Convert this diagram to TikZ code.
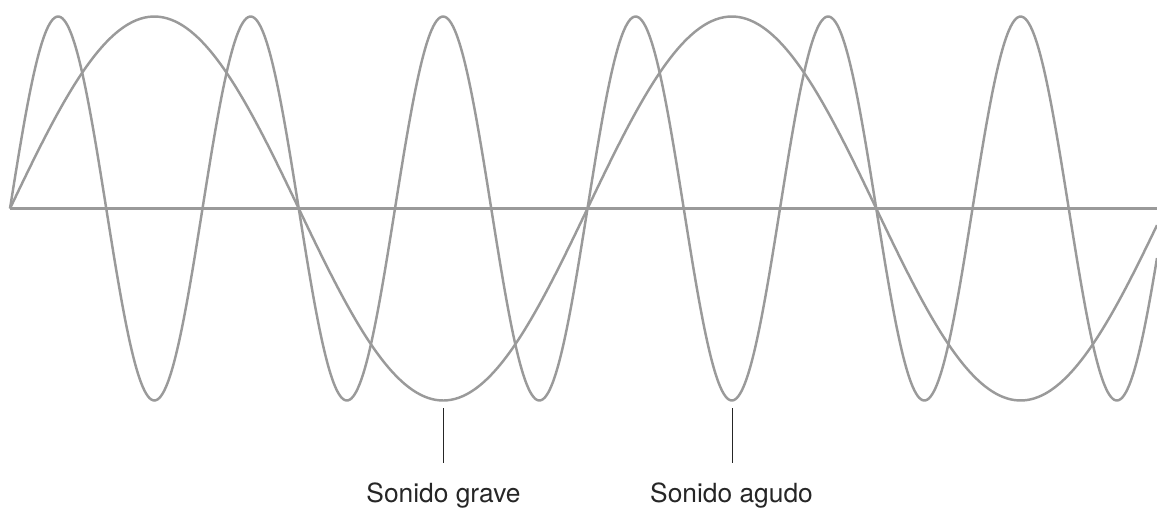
\documentclass[tikz,border=0pt]{standalone}
\usepackage{fontspec}
\setmainfont{TeX Gyre Heros}
\usepackage{xcolor}
\usepackage{tikz}
\definecolor{wavegray}{HTML}{9A9A9A}

\begin{document}
\begin{tikzpicture}[x=0.02cm, y=-0.02cm,
    wave/.style={draw=wavegray, line width=1.4pt},
    leader/.style={draw=black!85, line width=0.6pt},
    wavetext/.style={anchor=base, font=\fontsize{15}{17}\selectfont, text=black!85}]
    \useasboundingbox (0,0) rectangle (1157,508);
    % axis
    \draw[wavegray, line width=1.7pt] (10,208.5) -- (1157,208.5);
    % low and high pitch
    \draw[wave] plot[domain=10:1157, samples=300, smooth] (\x, {208.5 - 192*sin((\x-10)/577.5*360)});
    \draw[wave] plot[domain=10:1157, samples=700, smooth] (\x, {208.5 - 192*sin((\x-10)/577.5*1080)});
    % labels
    \coordinate (gravetop) at (443.3,408);
    \coordinate (graveend) at (443.3,463);
    \coordinate (agudotop) at (732.7,408);
    \coordinate (agudoend) at (732.7,463);
    \node[wavetext] (grave) at (443.5,502) {Sonido grave};
    \node[wavetext] (agudo) at (731.5,502) {Sonido agudo};
    \draw[leader] (gravetop) -- (graveend);
    \draw[leader] (agudotop) -- (agudoend);
\end{tikzpicture}
\end{document}
